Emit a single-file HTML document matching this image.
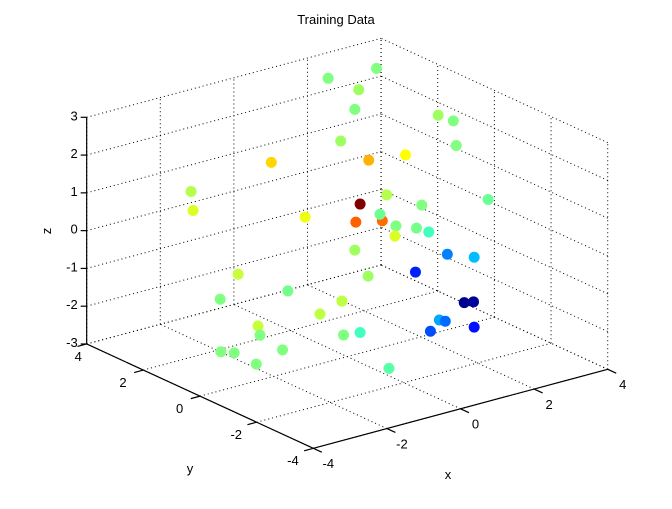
<!DOCTYPE html>
<html><head><meta charset="utf-8"><style>
body{margin:0;background:#fff}
svg text{font-family:"Liberation Sans",sans-serif;font-size:13px;fill:#000}
</style></head><body>
<svg id="chart" width="672" height="504" viewBox="0 0 672 504" xmlns="http://www.w3.org/2000/svg">
<rect width="672" height="504" fill="#fff"/>
<g id="grid"></g>
<g id="axes"></g>
<g id="pts"></g>
<text x="336" y="24" text-anchor="middle">Training Data</text>
<text x="448" y="479" text-anchor="middle">x</text>
<text x="190" y="473" text-anchor="middle">y</text>
<text x="0" y="0" text-anchor="middle" transform="translate(51,231) rotate(-90)">z</text>
</svg>
<script>
const xs=[2.8,1.6,1.7,0.9,-0.1,-1.30,0.37,1.00,-2.68,-2.65,-0.72,0.22,0.15,0.60,0.56,0.68,0.84,0.82,0.13,-1.87,0.36,-2.18,-1.02,-0.09,-0.47,-1.53,-1.50,-0.06,0.22,-2.17,-1.94,-1.11,-1.84,0.28,2.16,2.11,1.87,2.42,1.28,1.19,1.40,1.72,2.18,1.17,2.01,2.17,1.58,1.68,1.43,2.18];
const ys=[2.6,2.75,1.8,0.9,0.1,0.99,-0.28,-0.76,2.03,2.00,0.55,-0.17,-0.11,-0.46,-0.43,-0.51,-0.63,-0.62,-0.10,1.42,-0.27,1.65,0.77,0.07,0.35,1.16,1.13,0.05,-0.17,1.64,1.47,0.84,0.82,-1.11,-0.94,-0.47,-1.42,-1.83,-0.97,-0.90,-1.06,-1.30,-1.65,-0.89,-1.52,-1.64,-1.20,-1.28,-1.08,-1.65];
const zs=[3,3,3,3,2.7,2.14,2.20,2.34,1.37,0.87,0.69,1.04,0.56,0.60,0.77,1.28,0.46,0.19,-0.18,-0.82,-0.87,-1.48,-1.26,-1.53,-1.87,-2.19,-2.43,-2.43,-2.36,-2.87,-2.90,-2.82,-3,-3,3,3,2.59,1.16,1.01,0.40,0.30,-0.29,-0.37,-0.76,-1.57,-1.55,-2.03,-2.06,-2.33,-2.22];
const cs=[0.5,0.5,0.53,0.5,0.53,0.665,0.70,0.625,0.55,0.59,0.61,1.0,0.78,0.77,0.48,0.55,0.5,0.59,0.53,0.57,0.53,0.5,0.49,0.56,0.56,0.57,0.5,0.5,0.44,0.5,0.5,0.5,0.5,0.46,0.5,0.53,0.5,0.48,0.5,0.49,0.44,0.25,0.31,0.156,0.015,0.03,0.29,0.23,0.2,0.14];
const xTicks=[-4,-2,0,2,4];
const yTicks=[-4,-2,0,2,4];
const zTicks=[-3,-2,-1,0,1,2,3];

const O=[347.2,243.3], EX=[36.8,-9.875], EY=[-28.33,-13.04], EZ=[0,-37.78];
function P(x,y,z){return [O[0]+x*EX[0]+y*EY[0]+z*EZ[0], O[1]+x*EX[1]+y*EY[1]+z*EZ[1]];}
const NS="http://www.w3.org/2000/svg";
function line(g,a,b,dotted,name){const l=document.createElementNS(NS,'line');
l.setAttribute('x1',a[0]);l.setAttribute('y1',a[1]);l.setAttribute('x2',b[0]);l.setAttribute('y2',b[1]);
l.setAttribute('stroke','#000');l.setAttribute('stroke-width',dotted?'1':'1.2');
if(dotted)l.setAttribute('stroke-dasharray','1 3');


g.appendChild(l);}
function txt(g,s,p,anchor,name){const t=document.createElementNS(NS,'text');
t.setAttribute('x',p[0]);t.setAttribute('y',p[1]);t.setAttribute('text-anchor',anchor);t.textContent=s;


g.appendChild(t);}
const G=document.getElementById('grid'),A=document.getElementById('axes'),PT=document.getElementById('pts');
xTicks.forEach(x=>line(G,P(x,4,-3),P(x,4,3),true,'grid-line-x'));
zTicks.forEach(z=>line(G,P(-4,4,z),P(4,4,z),true,'grid-line-z'));
yTicks.forEach(y=>line(G,P(4,y,-3),P(4,y,3),true,'grid-line-y'));
zTicks.forEach(z=>line(G,P(4,-4,z),P(4,4,z),true,'grid-line-z'));
xTicks.forEach(x=>line(G,P(x,-4,-3),P(x,4,-3),true,'grid-line-x'));
yTicks.forEach(y=>line(G,P(-4,y,-3),P(4,y,-3),true,'grid-line-y'));
line(A,P(-4,4,-3),P(-4,4,3),false,'z-axis-line');
line(A,P(-4,4,-3),P(-4,-4,-3),false,'y-axis-line');
line(A,P(-4,-4,-3),P(4,-4,-3),false,'x-axis-line');
zTicks.forEach(z=>{const p=P(-4,4,z);line(A,p,[p[0]-6,p[1]],false,'z-tick');txt(A,String(z),[p[0]-9,p[1]+3],'end','z-tick-label');});
yTicks.forEach(y=>{const p=P(-4,y,-3);line(A,p,P(-4.25,y,-3),false,'y-tick');const q=P(-4.5,y,-3);txt(A,String(y),[q[0]-2+(y===4?12:0),q[1]+12],'middle','y-tick-label');});
xTicks.forEach(x=>{const p=P(x,-4,-3);line(A,p,P(x,-4.3,-3),false,'x-tick');const q=P(x,-4.6,-3);txt(A,String(x),[q[0]-2,q[1]+12],'middle','x-tick-label');});
function jet(t){const c=v=>Math.round(255*Math.max(0,Math.min(1,v)));return 'rgb('+c(1.5-Math.abs(4*t-3))+','+c(1.5-Math.abs(4*t-2))+','+c(1.5-Math.abs(4*t-1))+')';}
xs.forEach((x,i)=>{const p=P(x,ys[i],zs[i]);const c=document.createElementNS(NS,'circle');
c.setAttribute('cx',p[0]);c.setAttribute('cy',p[1]);c.setAttribute('r','5.5');c.setAttribute('fill',jet(cs[i]));


PT.appendChild(c);});
</script>
</body></html>
